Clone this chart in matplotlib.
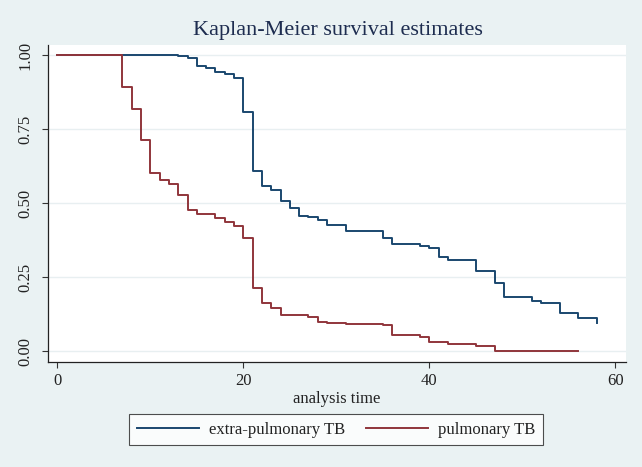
import numpy as np
import matplotlib
matplotlib.use("Agg")
import matplotlib.pyplot as plt

# Kaplan-Meier step values
time_extra = [0, 13, 14, 15, 16, 17, 18, 19, 20, 21, 22, 23, 24, 25, 26, 27, 28, 29,
              31, 35, 36, 39, 40, 41, 42, 45, 47, 48, 51, 52, 54, 56, 58]
surv_extra = [1.0, 0.997, 0.989, 0.964, 0.956, 0.942, 0.935, 0.923, 0.809, 0.610,
              0.559, 0.543, 0.508, 0.484, 0.458, 0.454, 0.445, 0.426, 0.406, 0.383,
              0.361, 0.354, 0.348, 0.317, 0.308, 0.272, 0.232, 0.184, 0.171, 0.164,
              0.130, 0.113, 0.094]

time_pulm = [0, 7, 8, 9, 10, 11, 12, 13, 14, 15, 17, 18, 19, 20, 21, 22, 23, 24,
             27, 28, 29, 31, 35, 36, 39, 40, 42, 45, 47, 56]
surv_pulm = [1.0, 0.893, 0.817, 0.713, 0.603, 0.578, 0.565, 0.528, 0.477, 0.463,
             0.451, 0.438, 0.423, 0.382, 0.215, 0.164, 0.146, 0.121, 0.117, 0.099,
             0.094, 0.092, 0.089, 0.056, 0.049, 0.030, 0.024, 0.018, 0.002, 0.002]

xticks = [0, 20, 40, 60]
yticks = [0.0, 0.25, 0.5, 0.75, 1.0]
ytick_labels = ["0.00", "0.25", "0.50", "0.75", "1.00"]

bg = "#EAF2F3"
plt.rcParams["font.family"] = ["Liberation Serif", "DejaVu Serif"]

fig = plt.figure(figsize=(6.42, 4.67), dpi=100, facecolor=bg)
ax = fig.add_axes([0.0743, 0.2255, 0.901, 0.678])
ax.set_facecolor("white")

for y in yticks:
    ax.axhline(y, color="#E8EFF1", lw=1.0, zorder=0)

l1, = ax.step(time_extra, surv_extra, where="post", color="#1A476F", lw=1.4)
l2, = ax.step(time_pulm, surv_pulm, where="post", color="#90353B", lw=1.4)

ax.set_xlim(-1.03, 61.15)
ax.set_ylim(-0.035, 1.034)
ax.set_xticks(xticks)
ax.set_yticks(yticks)
ax.set_yticklabels(ytick_labels, rotation=90, va="center")
ax.tick_params(axis="both", labelsize=12, length=4.5, width=0.8, color="#333333",
               labelcolor="#222222")
ax.tick_params(axis="y", pad=6)
ax.tick_params(axis="x", pad=4)

for s in ["top", "right"]:
    ax.spines[s].set_visible(False)
for s in ["left", "bottom"]:
    ax.spines[s].set_color("#222222")
    ax.spines[s].set_linewidth(0.9)

ax.set_xlabel("analysis time", fontsize=12, color="#222222", labelpad=1)
fig.text(0.5257, 1 - 31 / 467, "Kaplan-Meier survival estimates", fontsize=16,
         color="#1E2D50", ha="center", va="center")

leg = fig.legend([l1, l2], ["extra-pulmonary TB", "pulmonary TB"], loc="center",
                 bbox_to_anchor=(0.5234, 1 - 429.7 / 467), ncol=2, fontsize=12,
                 frameon=True, fancybox=False, handlelength=3.7, handletextpad=0.6,
                 columnspacing=1.3, borderpad=0.45)
leg.get_frame().set_edgecolor("#222222")
leg.get_frame().set_linewidth(0.8)
leg.get_frame().set_facecolor("white")
for t in leg.get_texts():
    t.set_color("#222222")

fig.savefig("out.png", dpi=100, facecolor=bg)
